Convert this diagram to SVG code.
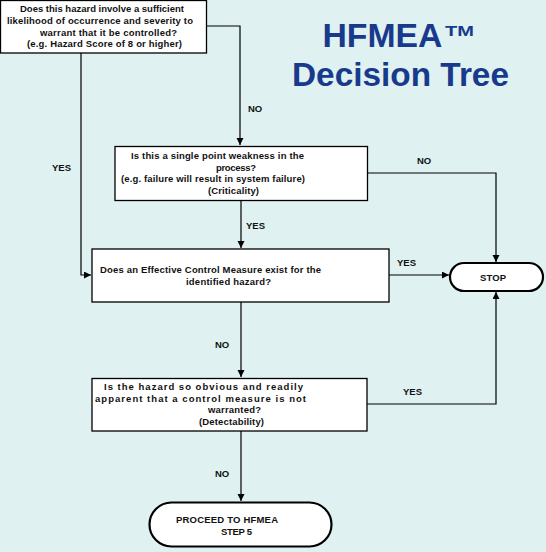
<svg xmlns="http://www.w3.org/2000/svg" width="546" height="552" viewBox="0 0 546 552">
<style>
.bg{fill:#dff1f0}
.box{fill:#fff;stroke:#000;stroke-width:1.3}
.term{fill:#fff;stroke:#000;stroke-width:2.2}
.t{font-family:"Liberation Sans",Arial,sans-serif;font-weight:bold;font-size:9.5px;fill:#111}
.lbl{font-family:"Liberation Sans",Arial,sans-serif;font-weight:bold;font-size:9.5px;fill:#111}
.title{font-family:"Liberation Sans",Arial,sans-serif;font-weight:bold;fill:#183a8c}
.c{fill:none;stroke:#000;stroke-width:1.2}
</style>
<defs>
<marker id="ah" markerUnits="userSpaceOnUse" markerWidth="8" markerHeight="8" refX="7" refY="3.5" orient="auto">
<path d="M0,0 L7,3.5 L0,7 z" fill="#000"/>
</marker>
</defs>
<rect class="bg" x="0" y="0" width="546" height="552"/>

<g id="title">
<text class="title" x="322.5" y="47" font-size="33" textLength="120" lengthAdjust="spacingAndGlyphs">HFMEA</text>
<text class="title" x="445" y="36" font-size="15" textLength="29" lengthAdjust="spacingAndGlyphs">TM</text>
<text class="title" x="292" y="86" font-size="33" textLength="217" lengthAdjust="spacingAndGlyphs">Decision Tree</text>
</g>

<g id="connectors">
<polyline class="c" points="206,26 240,26 240,145" marker-end="url(#ah)"/>
<polyline class="c" points="81,53 81,275 91,275" marker-end="url(#ah)"/>
<polyline class="c" points="367,173 496,173 496,262" marker-end="url(#ah)"/>
<polyline class="c" points="241,201 241,248" marker-end="url(#ah)"/>
<polyline class="c" points="389,275 449,275" marker-end="url(#ah)"/>
<polyline class="c" points="241,302 241,377" marker-end="url(#ah)"/>
<polyline class="c" points="367,404 496,404 496,292" marker-end="url(#ah)"/>
<polyline class="c" points="241,431 241,501" marker-end="url(#ah)"/>
<text class="lbl" x="248" y="112">NO</text>
<text class="lbl" x="52" y="170.5">YES</text>
<text class="lbl" x="417" y="164">NO</text>
<text class="lbl" x="246" y="229">YES</text>
<text class="lbl" x="397" y="266">YES</text>
<text class="lbl" x="215" y="348">NO</text>
<text class="lbl" x="403" y="395">YES</text>
<text class="lbl" x="215" y="477">NO</text>
</g>

<g id="q1">
<rect class="box" x="0.5" y="0.5" width="206" height="52.5"/>
<text class="t" x="20" y="12" textLength="164" lengthAdjust="spacing">Does this hazard involve a sufficient</text>
<text class="t" x="7" y="23.5" textLength="186" lengthAdjust="spacing">likelihood of occurrence and severity to</text>
<text class="t" x="40" y="35.5" textLength="137" lengthAdjust="spacing">warrant that it be controlled?</text>
<text class="t" x="27" y="47" textLength="155" lengthAdjust="spacing">(e.g. Hazard Score of 8 or higher)</text>
</g>

<g id="q2">
<rect class="box" x="115" y="146.5" width="252.5" height="54"/>
<text class="t" x="131" y="159" textLength="173" lengthAdjust="spacing">Is this a single point weakness in the</text>
<text class="t" x="216" y="171" textLength="40" lengthAdjust="spacing">process?</text>
<text class="t" x="121" y="182" textLength="184" lengthAdjust="spacing">(e.g. failure will result in system failure)</text>
<text class="t" x="208" y="193.5" textLength="51" lengthAdjust="spacing">(Criticality)</text>
</g>

<g id="q3">
<rect class="box" x="92" y="249" width="297" height="53"/>
<text class="t" x="100" y="272.5" textLength="221" lengthAdjust="spacing">Does an Effective Control Measure exist for the</text>
<text class="t" x="186" y="285" textLength="85" lengthAdjust="spacing">identified hazard?</text>
</g>

<g id="q4">
<rect class="box" x="92" y="378.5" width="275" height="52.5"/>
<text class="t" x="104" y="390" textLength="199" lengthAdjust="spacing">Is the hazard so obvious and readily</text>
<text class="t" x="95" y="401.5" textLength="211" lengthAdjust="spacing">apparent that a control measure is not</text>
<text class="t" x="208" y="413" textLength="53" lengthAdjust="spacing">warranted?</text>
<text class="t" x="199" y="425" textLength="65" lengthAdjust="spacing">(Detectability)</text>
</g>

<g id="stop">
<rect class="term" x="450" y="263" width="93" height="28" rx="14" ry="14"/>
<text class="t" x="480" y="280.5" textLength="26" lengthAdjust="spacing">STOP</text>
</g>

<g id="proceed">
<rect class="term" x="149.5" y="502.5" width="182" height="44" rx="22" ry="22"/>
<text class="t" x="176" y="523" textLength="102" lengthAdjust="spacing">PROCEED TO HFMEA</text>
<text class="t" x="221" y="535" textLength="31" lengthAdjust="spacing">STEP 5</text>
</g>
</svg>
